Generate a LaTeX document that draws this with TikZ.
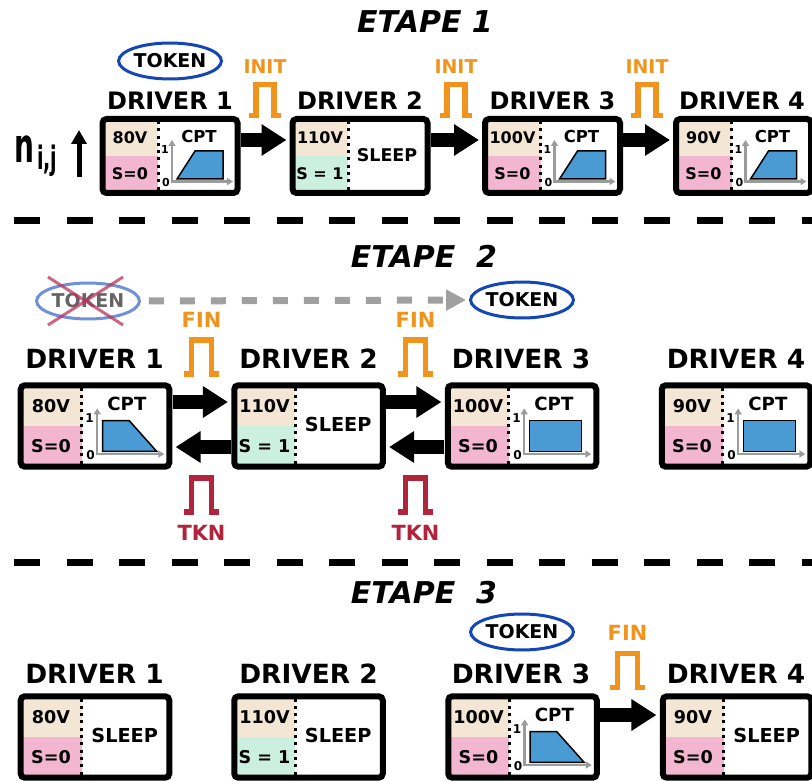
\documentclass[tikz,border=0pt]{standalone}
\usepackage{fontspec}
\setmainfont{DejaVu Sans}
\usetikzlibrary{arrows.meta,shapes.geometric}

\definecolor{tanfill}{RGB}{243,230,212}
\definecolor{pinkfill}{RGB}{242,182,208}
\definecolor{mintfill}{RGB}{204,240,224}
\definecolor{cptblue}{RGB}{74,155,212}
\definecolor{sigorange}{RGB}{240,148,30}
\definecolor{tkncrimson}{RGB}{176,36,60}
\definecolor{tokblue}{RGB}{20,70,180}
\definecolor{tokfade}{RGB}{110,145,215}
\definecolor{tokgray}{RGB}{100,100,100}
\definecolor{crossred}{RGB}{190,50,90}
\definecolor{dashgray}{RGB}{160,160,160}
\definecolor{axisgray}{RGB}{155,155,155}

\newcommand{\fsz}[1]{\fontsize{#1}{#1}\selectfont\bfseries}

\tikzset{
  drvbox/.style={draw, line width=6pt, rounded corners=4pt, minimum width=135pt,
    minimum height=74pt, inner sep=0pt},
  drvlbl/.style={font=\fsz{24}, inner sep=0pt, anchor=base},
  titlelbl/.style={font=\fsz{30}\itshape, inner sep=0pt, anchor=base},
  volt/.style={font=\fsz{16}, inner sep=0pt},
  cptlbl/.style={font=\fsz{16.5}, inner sep=0pt},
  sleeplbl/.style={font=\fsz{17.5}, inner sep=0pt},
  tick/.style={font=\fsz{11}, inner sep=0pt},
  siglbl/.style={font=\fsz{19}, inner sep=0pt},
  token/.style={ellipse, draw=tokblue, line width=3pt, minimum width=94pt,
    minimum height=36pt, inner sep=0pt, font=\fsz{19}},
  nlbl/.style={font=\fsz{28}, inner sep=0pt, anchor=base west},
  dotsep/.style={line width=3pt, dash pattern=on 3pt off 4.3pt},
  axis/.style={draw=axisgray, line width=2.5pt,
    {Triangle[length=6pt,width=7pt]}-{Triangle[length=6pt,width=7pt]}},
  cptshape/.style={draw=black, fill=cptblue, line width=1.5pt},
  bigarrow/.style={line width=14pt, -{Triangle[length=25pt,width=30pt]}, shorten >=3pt},
  uparrow/.style={line width=5pt, -{Triangle[length=14pt,width=15pt]}},
  tokmove/.style={draw=dashgray, line width=7pt, dash pattern=on 15pt off 16pt,
    -{Triangle[length=20pt,width=20pt]}, shorten <=8pt, shorten >=3pt},
  crossline/.style={draw=crossred, line width=3pt, opacity=0.75},
  sepline/.style={line width=7pt, dash pattern=on 26pt off 26.5pt, dash phase=38.5pt},
  pulse/.pic={
    \draw[line width=5.5pt] (-16,15.5) -- (-9,15.5) -- (-9,-15.5) -- (9,-15.5)
      -- (9,15.5) -- (16,15.5);
  }
}

% CPT curves inside a driver
\newcommand{\cptaxes}[1]{%
  \node[cptlbl] (#1-c) at (29,-20) {CPT};
  \node[tick] (#1-one) at (-5,-7) {1};
  \node[tick] (#1-zero) at (-4,26) {0};
  \draw[axis] (2,-16) -- (2,25.5) -- (63,25.5);}
\newcommand{\cptup}[1]{\cptaxes{#1}%
  \draw[cptshape] (7,23) -- (25,-5) -- (53,-5) -- (53,23) -- cycle;}
\newcommand{\cptdown}[1]{\cptaxes{#1}%
  \draw[cptshape] (7,23) -- (7,-5) -- (31,-5) -- (56,23) -- cycle;}
\newcommand{\cptflat}[1]{\cptaxes{#1}%
  \draw[cptshape] (7,23) -- (7,-5) -- (54,-5) -- (54,23) -- cycle;}
\newcommand{\sleeptxt}[1]{\node[sleeplbl] (#1-z) at (27,-1) {SLEEP};}

% driver box: name, centre, scale, volt, state, state colour, content
\newcommand{\drv}[7]{%
  \begin{scope}[shift={#2}, scale=#3, transform shape]
    \fill[tanfill] (-67.5,-37) rectangle (-12,0);
    \fill[#6] (-67.5,0) rectangle (-12,37);
    \draw[dotsep] (-12,-35) -- (-12,35);
    \node[volt] (#1-v) at (-40,-18) {#4};
    \node[volt] (#1-s) at (-40,18) {#5};
    #7{#1}
    \node[drvbox] (#1) at (0,0) {};
  \end{scope}}

\begin{document}
\begin{tikzpicture}[x=1pt,y=-1pt]
\useasboundingbox (0,0) rectangle (812,781);

% ---- etape 1
\node[titlelbl] (e1) at (425,33) {ETAPE 1};
\node[token] (tok1) at (170,61) {TOKEN};

\begin{scope}[shift={(14,163)}, yscale=1.7, transform shape]
  \node[nlbl] (nij) at (0,0) {n\hspace{3pt}\raisebox{-4pt}{\fsz{19}i,j}};
\end{scope}
\coordinate (up0) at (79,177);
\coordinate (up1) at (79,130);
\draw[uparrow] (up0) -- (up1);

\drv{b11}{(170,156)}{1}{80V}{S=0}{pinkfill}{\cptup}
\drv{b12}{(360,156)}{1}{110V}{S = 1}{mintfill}{\sleeptxt}
\drv{b13}{(552.5,156)}{1}{100V}{S=0}{pinkfill}{\cptup}
\drv{b14}{(743.5,156)}{1}{90V}{S=0}{pinkfill}{\cptup}

\foreach \i/\x in {1/170,2/360,3/552.5,4/742}
  \node[drvlbl] (l1\i) at (\x,110) {DRIVER \i};

\foreach \i/\x in {1/265,2/456,3/647} {
  \pic[color=sigorange] at (\x,100) {pulse};
  \node[siglbl, sigorange] (init\i) at (\x,67) {INIT};
}

\draw[bigarrow] ([yshift=16pt]b11.east) -- ([yshift=16pt]b12.west);
\draw[bigarrow] ([yshift=16pt]b12.east) -- ([yshift=16pt]b13.west);
\draw[bigarrow] ([yshift=16pt]b13.east) -- ([yshift=16pt]b14.west);

\draw[sepline] (0,220.5) -- (812,220.5);

% ---- etape 2
\node[titlelbl] (e2) at (424,267) {ETAPE\ \ 2};
\node[token, draw=tokfade, text=tokgray] (tok2x) at (88,301) {TOKEN};
\draw[crossline] ([shift={(-40,-24)}]tok2x.center) -- ([shift={(35,24)}]tok2x.center);
\draw[crossline] ([shift={(35,-24)}]tok2x.center) -- ([shift={(-40,24)}]tok2x.center);
\node[token] (tok2) at (522,300) {TOKEN};
\draw[tokmove] (tok2x.east) -- (tok2.west);

\drv{b21}{(95,426)}{1.1}{80V}{S=0}{pinkfill}{\cptdown}
\drv{b22}{(308.5,426)}{1.1}{110V}{S = 1}{mintfill}{\sleeptxt}
\drv{b23}{(522,426)}{1.1}{100V}{S=0}{pinkfill}{\cptflat}
\drv{b24}{(736,426)}{1.1}{90V}{S=0}{pinkfill}{\cptflat}

\foreach \i/\x in {1/94.5,2/308.5,3/521,4/736}
  \node[drvlbl, scale=1.1] (l2\i) at (\x,368) {DRIVER \i};

\foreach \i/\x in {1/201.5,2/415.5} {
  \pic[color=sigorange, scale=1.1] at (\x,357) {pulse};
  \node[siglbl, sigorange, scale=1.1] (fin\i) at (\x,320) {FIN};
  \pic[color=tkncrimson, scale=1.1] at (\x,495) {pulse};
  \node[siglbl, tkncrimson, scale=1.1] (tkn\i) at (\x,532.5) {TKN};
}

\draw[bigarrow] ([yshift=24pt]b21.east) -- ([yshift=24pt]b22.west);
\draw[bigarrow] ([yshift=-21pt]b22.west) -- ([yshift=-21pt]b21.east);
\draw[bigarrow] ([yshift=24pt]b22.east) -- ([yshift=24pt]b23.west);
\draw[bigarrow] ([yshift=-21pt]b23.west) -- ([yshift=-21pt]b22.east);

\draw[sepline] (0,562) -- (812,562);

% ---- etape 3
\node[titlelbl] (e3) at (424,603) {ETAPE\ \ 3};
\node[token] (tok3) at (522,632) {TOKEN};

\drv{b31}{(95,737)}{1.1}{80V}{S=0}{pinkfill}{\sleeptxt}
\drv{b32}{(308.5,737)}{1.1}{110V}{S = 1}{mintfill}{\sleeptxt}
\drv{b33}{(522.5,737)}{1.1}{100V}{S=0}{pinkfill}{\cptdown}
\drv{b34}{(737,737)}{1.1}{90V}{S=0}{pinkfill}{\sleeptxt}

\foreach \i/\x in {1/94.5,2/308.5,3/521,4/736}
  \node[drvlbl, scale=1.1] (l3\i) at (\x,683) {DRIVER \i};

\pic[color=sigorange, scale=1.1] at (627.5,670.5) {pulse};
\node[siglbl, sigorange, scale=1.1] (fin3) at (627.5,633) {FIN};

\draw[bigarrow] ([yshift=22pt]b33.east) -- ([yshift=22pt]b34.west);

\end{tikzpicture}
\end{document}
